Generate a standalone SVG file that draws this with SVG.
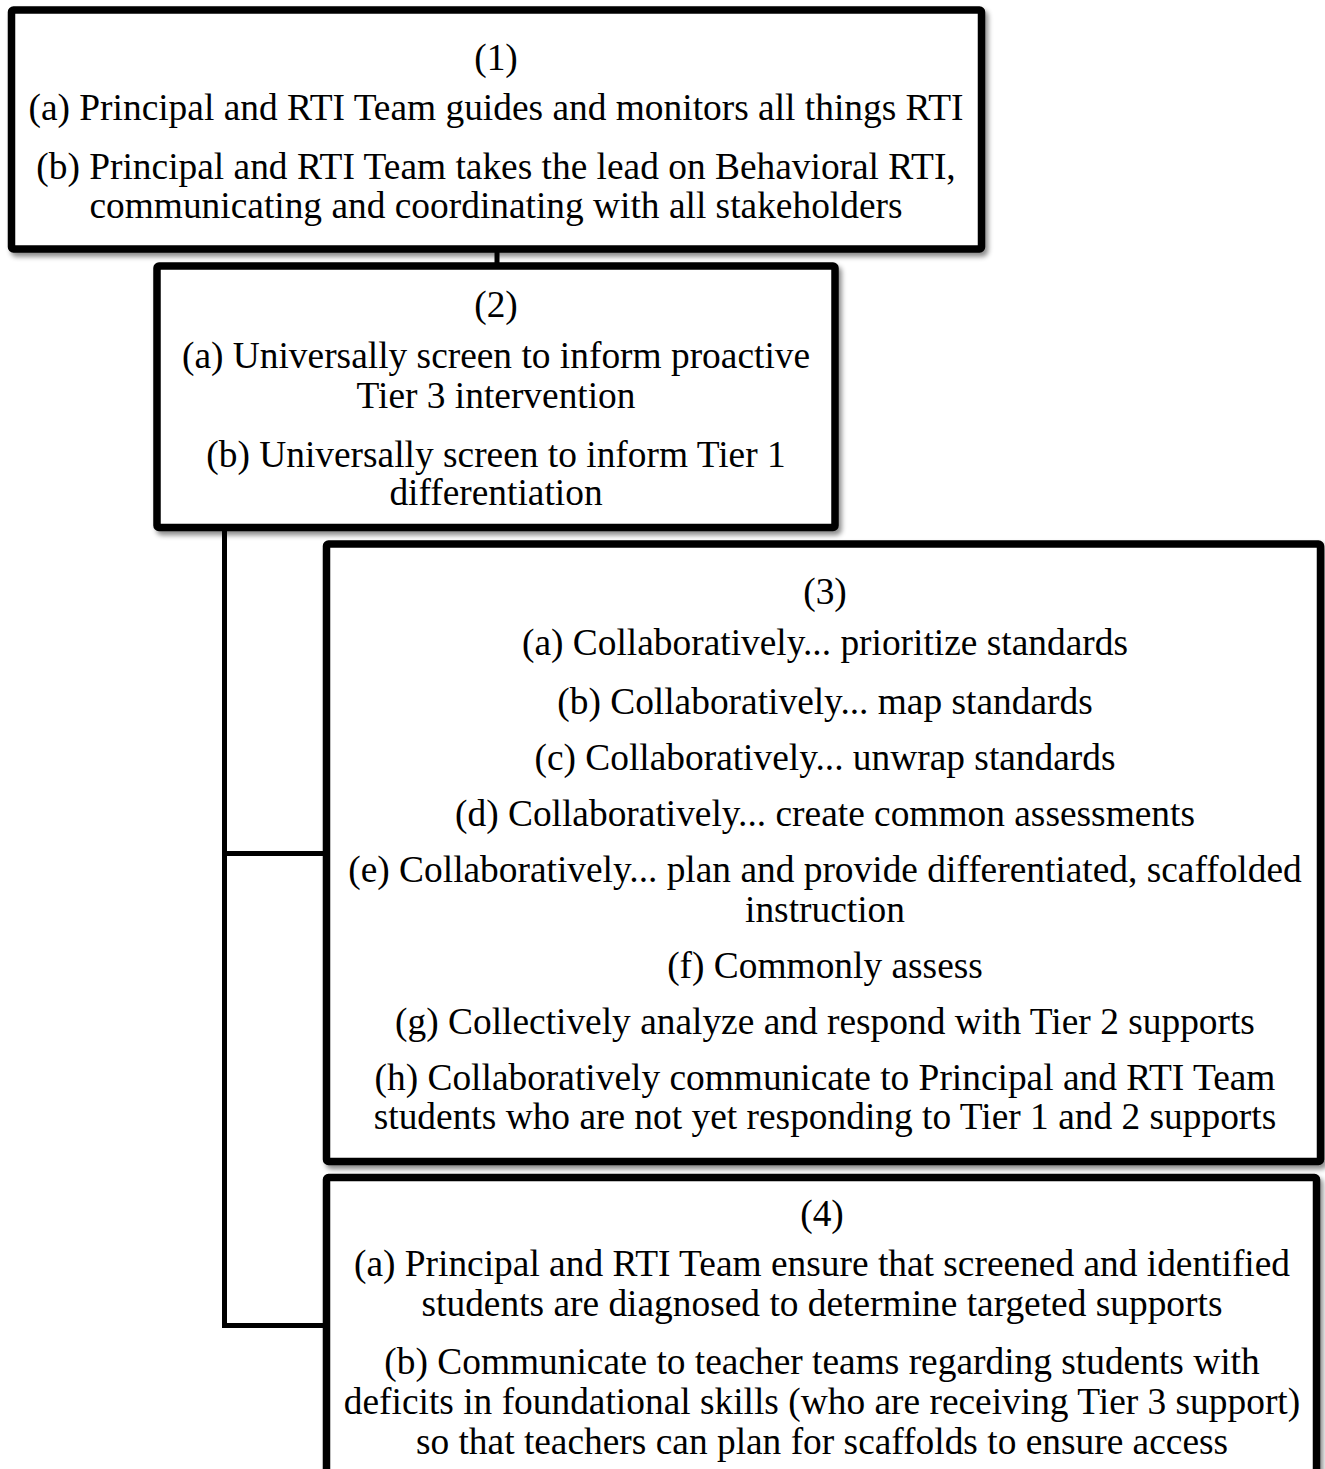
<svg xmlns="http://www.w3.org/2000/svg" width="1325" height="1469" viewBox="0 0 1325 1469">
  <style>
    .box { fill: #ffffff; stroke: #000000; stroke-width: 7.5; filter: url(#shadow); }
    .wire { fill: none; stroke: #000000; stroke-width: 5; stroke-linecap: square; }
    .t { font-family: "Liberation Serif", "Times New Roman", serif; font-size: 37.4px; fill: #000000; text-anchor: middle; }
  </style>
  <defs>
    <filter id="shadow" x="-5%" y="-5%" width="110%" height="115%">
      <feDropShadow dx="3" dy="4" stdDeviation="2.5" flood-color="#000000" flood-opacity="0.45"/>
    </filter>
  </defs>

  <!-- connectors -->
  <g id="connectors">
    <line class="wire" x1="497" y1="250" x2="497" y2="265"/>
    <polyline class="wire" points="224.5,530 224.5,1325.5 324,1325.5"/>
    <line class="wire" x1="224.5" y1="853.5" x2="324" y2="853.5"/>
  </g>

  <!-- step 1 -->
  <g id="node1">
    <rect class="box" x="11.5" y="10" width="970" height="239" rx="2"/>
    <text class="t" x="496" y="70">(1)</text>
    <text class="t" x="496" y="120">(a) Principal and RTI Team guides and monitors all things RTI</text>
    <text class="t" x="496" y="179">(b) Principal and RTI Team takes the lead on Behavioral RTI,</text>
    <text class="t" x="496" y="218">communicating and coordinating with all stakeholders</text>
  </g>

  <!-- step 2 -->
  <g id="node2">
    <rect class="box" x="157" y="266" width="678" height="261.5" rx="2"/>
    <text class="t" x="496" y="317">(2)</text>
    <text class="t" x="496" y="368">(a) Universally screen to inform proactive</text>
    <text class="t" x="496" y="408">Tier 3 intervention</text>
    <text class="t" x="496" y="467">(b) Universally screen to inform Tier 1</text>
    <text class="t" x="496" y="505">differentiation</text>
  </g>

  <!-- step 3 -->
  <g id="node3">
    <rect class="box" x="326.5" y="544" width="994" height="617.5" rx="2"/>
    <text class="t" x="825" y="604">(3)</text>
    <text class="t" x="825" y="655">(a) Collaboratively... prioritize standards</text>
    <text class="t" x="825" y="714">(b) Collaboratively... map standards</text>
    <text class="t" x="825" y="770">(c) Collaboratively... unwrap standards</text>
    <text class="t" x="825" y="826">(d) Collaboratively... create common assessments</text>
    <text class="t" x="825" y="882">(e) Collaboratively... plan and provide differentiated, scaffolded</text>
    <text class="t" x="825" y="922">instruction</text>
    <text class="t" x="825" y="978">(f) Commonly assess</text>
    <text class="t" x="825" y="1034">(g) Collectively analyze and respond with Tier 2 supports</text>
    <text class="t" x="825" y="1090">(h) Collaboratively communicate to Principal and RTI Team</text>
    <text class="t" x="825" y="1129">students who are not yet responding to Tier 1 and 2 supports</text>
  </g>

  <!-- step 4 -->
  <g id="node4">
    <rect class="box" x="326.5" y="1177.5" width="990" height="320" rx="2"/>
    <text class="t" x="822" y="1226">(4)</text>
    <text class="t" x="822" y="1276">(a) Principal and RTI Team ensure that screened and identified</text>
    <text class="t" x="822" y="1316">students are diagnosed to determine targeted supports</text>
    <text class="t" x="822" y="1374">(b) Communicate to teacher teams regarding students with</text>
    <text class="t" x="822" y="1414">deficits in foundational skills (who are receiving Tier 3 support)</text>
    <text class="t" x="822" y="1454">so that teachers can plan for scaffolds to ensure access</text>
  </g>
</svg>
